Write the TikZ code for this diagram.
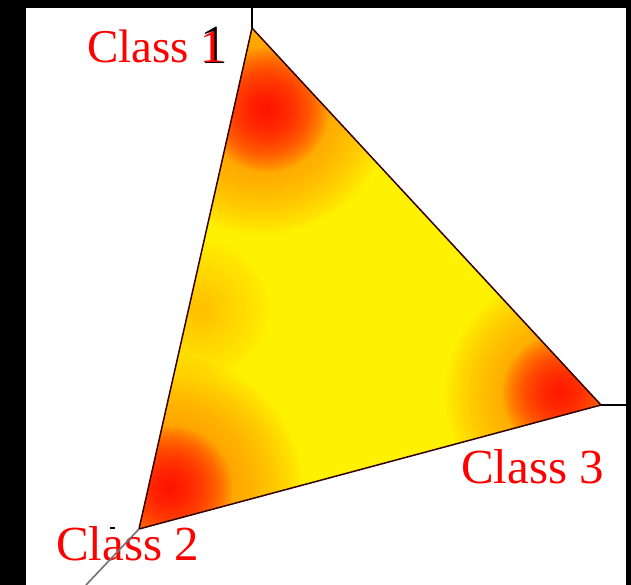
\documentclass[tikz,border=0pt]{standalone}
\usepackage{fontspec}
\setmainfont{Liberation Serif}
\newcommand\heatspot[5]{% centre, colour, max radius, next radius, opacity
  \foreach \rr in {#3,#4,...,2}{\fill[#2, opacity=#5] #1 circle[radius=\rr pt];}}
\begin{document}
\begin{tikzpicture}[x=1pt,y=-1pt,
  lbl/.style={text=red, font=\fontsize{47}{47}\selectfont, inner sep=0pt, anchor=base west},
  lblb/.style={lbl, font=\fontsize{49}{49}\selectfont},
  ghost/.style={text=black, font=\fontsize{55}{55}\selectfont, inner sep=0pt},
  edge/.style={draw=black!80!red, line width=1.5pt, line join=miter},
  axis/.style={draw=black, line width=1.6pt},
  axisgray/.style={draw=black!55, line width=1.6pt}]
\useasboundingbox (0,0) rectangle (631,585);
\fill[white] (0,0) rectangle (631,585);
\fill[black] (0,0) rectangle (26,585);
\fill[black] (0,0) rectangle (631,8);
\fill[black] (626,0) rectangle (631,585);
% vertices
\coordinate (A) at (252,28);
\coordinate (B) at (139,529);
\coordinate (C) at (601,405);
\coordinate (Atop) at (252,8);
\coordinate (Cright) at (626,405);
\coordinate (Bend) at (86,585);
% coloured fill
\begin{scope}
\clip (A) -- (B) -- (C) -- cycle;
\fill[yellow] (0,0) rectangle (631,585);
\heatspot{(200,310)}{orange}{70}{67}{0.02}
\heatspot{(262,105)}{orange}{130}{127}{0.04}
\heatspot{(168,490)}{orange}{135}{132}{0.04}
\heatspot{(565,395)}{orange}{120}{117}{0.04}
\heatspot{(267,110)}{red}{62}{60}{0.05}
\heatspot{(170,488)}{red}{62}{60}{0.05}
\heatspot{(560,393)}{red}{58}{56}{0.05}
\end{scope}
\draw[edge] (A) -- (B) -- (C) -- cycle;
\draw[axis] (A) -- (Atop);
\draw[axis] (C) -- (Cright);
% labels
\node[ghost] (g1) at (214,45) {1};
\node[lbl] (c1) at (87,63) {Class 1};
\node[lblb] (c3) at (461,483) {Class 3};
\node[lblb] (c2) at (56,560) {Class 2};
\coordinate (m1) at (110,528);
\coordinate (m2) at (115,528);
\draw[black, line width=1.5pt] (m1) -- (m2);
\draw[axisgray] (B) -- (Bend);
\end{tikzpicture}
\end{document}
